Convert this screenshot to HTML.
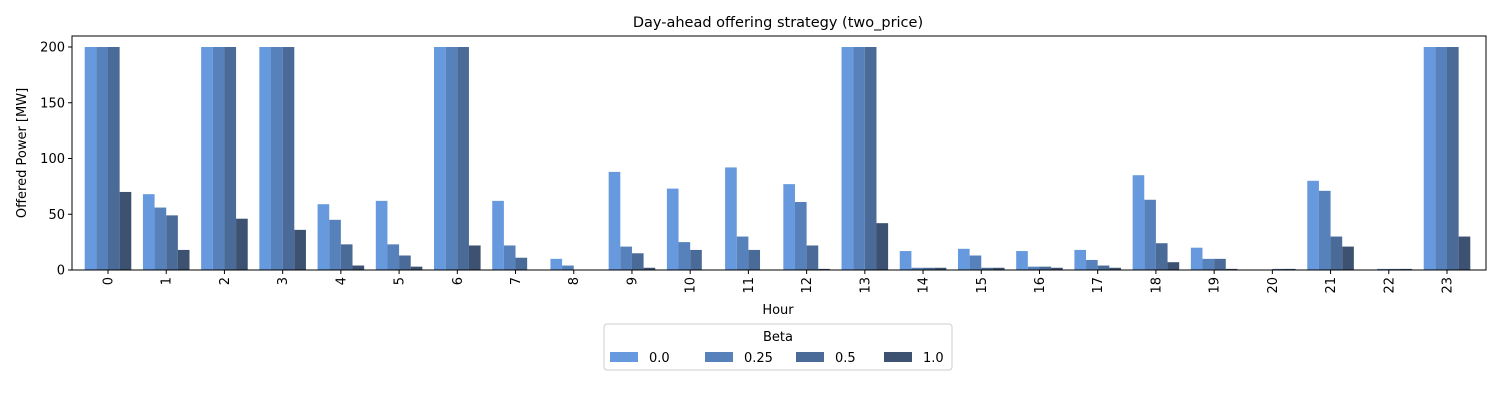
<!DOCTYPE html>
<html><head><meta charset="utf-8"><style>
body{margin:0;background:#fff;font-family:"Liberation Sans","DejaVu Sans",sans-serif;}
svg text{font-family:"DejaVu Sans","Liberation Sans",sans-serif;}
</style></head><body>
<svg id="chart" width="1500" height="400" xmlns="http://www.w3.org/2000/svg">
<rect width="1500" height="400" fill="#fff"/>
<text x="778" y="27" font-size="14.5" text-anchor="middle" fill="#000">Day-ahead offering strategy (two_price)</text>
<g id="bars"></g>
<g id="axes"></g>
<text x="778" y="314" font-size="13" text-anchor="middle">Hour</text>
<text transform="translate(26,153) rotate(-90)" font-size="13" text-anchor="middle">Offered Power [MW]</text>
<g id="legend"></g>
</svg>
<script>
const hours=[0,1,2,3,4,5,6,7,8,9,10,11,12,13,14,15,16,17,18,19,20,21,22,23];
const betaLabels=["0.0","0.25","0.5","1.0"];
const beta00=[200,68,200,200,59,62,200,62,10,88,73,92,77,200,17,19,17,18,85,20,0,80,0,200];
const beta025=[200,56,200,200,45,23,200,22,4,21,25,30,61,200,2,13,3,9,63,10,0,71,1,200];
const beta05=[200,49,200,200,23,13,200,11,0,15,18,18,22,200,2,2,3,4,24,10,1,30,1,200];
const beta10=[70,18,46,36,4,3,22,0,0,2,0,0,1,42,2,2,2,2,7,1,1,21,1,30];
const yTicks=[0,50,100,150,200];
const series=[beta00,beta025,beta05,beta10];
const colors=["#6699dd","#5781bb","#4a6a98","#3d5170"];
const NS="http://www.w3.org/2000/svg";
const L=72,R=1486,T=36,B=270;
const step=(1447-108)/23;
const xc=i=>108+i*step;
const y=v=>B-v*(223/200);
const bw=step*0.2;
function mk(tag,attrs,parent){const e=document.createElementNS(NS,tag);for(const k in attrs)e.setAttribute(k,attrs[k]);parent.appendChild(e);return e;}
const gb=document.getElementById('bars'),ga=document.getElementById('axes'),gl=document.getElementById('legend');
series.forEach((s,si)=>{s.forEach((v,i)=>{
 const r=mk('rect',{x:xc(hours[i])-2*bw+si*bw,y:y(v),width:bw,height:B-y(v),fill:colors[si]},gb);
 
 
});});
const fr=mk('rect',{x:L,y:T,width:R-L,height:B-T,fill:'none',stroke:'#000','stroke-width':1},ga);


yTicks.forEach(t=>{
 mk('line',{x1:L-4,x2:L,y1:y(t),y2:y(t),stroke:'#000'},ga);
 const tx=mk('text',{x:L-7,y:y(t)+4.5,'font-size':13,'text-anchor':'end'},ga);tx.textContent=t;
 
 
});
hours.forEach(h=>{
 mk('line',{x1:xc(h),x2:xc(h),y1:B,y2:B+4,stroke:'#000'},ga);
 const tx=mk('text',{x:0,y:0,'font-size':13,'text-anchor':'end',transform:`translate(${xc(h)+4.5},${B+7}) rotate(-90)`},ga);tx.textContent=h;
 
 
});
mk('rect',{x:604,y:324,width:348,height:46,rx:3,fill:'#fff',stroke:'#ccc'},gl);
const lt=mk('text',{x:778,y:341,'font-size':13,'text-anchor':'middle'},gl);lt.textContent='Beta';


const lx=[610,705,796,884];
betaLabels.forEach((b,i)=>{
 const g=mk('g',{},gl);
 
 
 mk('rect',{x:lx[i],y:352,width:28,height:10,fill:colors[i]},g);
 const t=mk('text',{x:lx[i]+39,y:362,'font-size':13},g);t.textContent=b;
});
</script>
</body></html>
